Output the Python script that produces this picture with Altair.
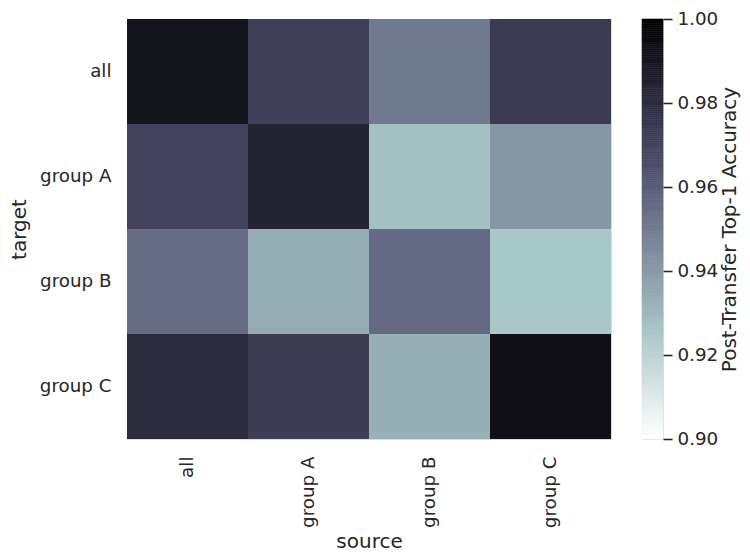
import altair as alt
import numpy as np
import pandas as pd

sources = ["all", "group A", "group B", "group C"]
targets = ["all", "group A", "group B", "group C"]
# rows = target, columns = source
acc_all = [0.9905, 0.9711, 0.9500, 0.9738]
acc_a = [0.9704, 0.9840, 0.9270, 0.9406]
acc_b = [0.9548, 0.9336, 0.9552, 0.9250]
acc_c = [0.9804, 0.9727, 0.9326, 0.9929]
rows = [acc_all, acc_a, acc_b, acc_c]

cbar_ticks = [0.90, 0.92, 0.94, 0.96, 0.98, 1.00]

records = []
for t, row in zip(targets, rows):
    for s, v in zip(sources, row):
        records.append({"source": s, "target": t, "acc": v})
df = pd.DataFrame(records)

# bone_r colormap stops
vmin, vmax = 0.90, 1.00
c_domain = [vmin, vmin + 0.253968 * (vmax - vmin), vmin + 0.634921 * (vmax - vmin), vmax]
c_range = ["#ffffff", "#a7c6c6", "#515171", "#000000"]
color_scale = alt.Scale(domain=c_domain, range=c_range, interpolate="rgb", clamp=True)

FONT = "DejaVu Sans"
TXT = "#262626"

heat = alt.Chart(df).mark_rect().encode(
    x=alt.X("source:N", sort=sources, scale=alt.Scale(paddingInner=0, paddingOuter=0),
            axis=alt.Axis(title="source", labelAngle=270, ticks=False, domain=False,
                          labelPadding=17, titlePadding=4, labelFontSize=18.3,
                          titleFontSize=20, labelColor=TXT, titleColor=TXT,
                          labelFont=FONT, titleFont=FONT, titleFontWeight="normal")),
    y=alt.Y("target:N", sort=targets, scale=alt.Scale(paddingInner=0, paddingOuter=0),
            axis=alt.Axis(title="target", ticks=False, domain=False,
                          labelPadding=16, titlePadding=10, labelFontSize=18.3,
                          titleFontSize=20, labelColor=TXT, titleColor=TXT,
                          labelFont=FONT, titleFont=FONT, titleFontWeight="normal")),
    color=alt.Color("acc:Q", scale=color_scale, legend=None),
).properties(width=484, height=420)

ramp = np.linspace(vmin, vmax, 201)
cb_df = pd.DataFrame({"v": ramp[:-1], "v2": ramp[1:]})

cbar = alt.Chart(cb_df).mark_rect(strokeWidth=0.6).encode(
    y=alt.Y("v:Q", scale=alt.Scale(domain=[vmin, vmax], nice=False, zero=False),
            axis=alt.Axis(orient="right", values=cbar_ticks, format=".2f",
                          title="Post-Transfer Top-1 Accuracy", titleAngle=270,
                          titleBaseline="top", titlePadding=2,
                          tickSize=9, tickWidth=1.6, tickColor=TXT, domain=False,
                          grid=False, labelPadding=5, labelFontSize=18.3,
                          titleFontSize=20, labelColor=TXT, titleColor=TXT,
                          labelFont=FONT, titleFont=FONT, titleFontWeight="normal")),
    y2="v2:Q",
    color=alt.Color("v:Q", scale=color_scale, legend=None),
    stroke=alt.Color("v:Q", scale=color_scale, legend=None),
).properties(width=21, height=420)

chart = alt.hconcat(heat, cbar, spacing=29).configure_view(stroke=None).configure(
    font=FONT, padding={"left": 0, "top": 0, "right": 0, "bottom": 0}
)

chart.save("out.html", embed_options={"renderer": "svg", "actions": False})
